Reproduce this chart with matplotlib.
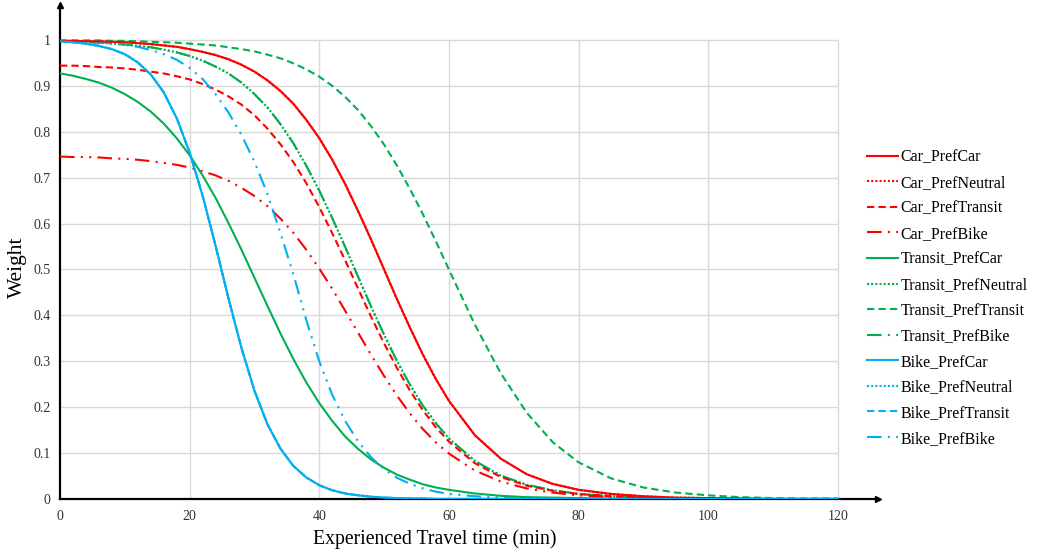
import matplotlib
matplotlib.use('Agg')
import matplotlib.pyplot as plt

plt.rcParams['font.family'] = ['Liberation Serif', 'DejaVu Serif']

# travel time (min) and weights
time_min = [0, 2, 4, 6, 8, 10, 12, 14, 16, 18, 20, 22, 24, 26, 28, 30, 32, 34, 36, 38, 40,
            42, 44, 46, 48, 50, 52, 54, 56, 58, 60,
            64, 68, 72, 76, 80,
            85, 90, 95, 100, 105, 110, 115, 120]

car_pref_car = [0.998, 0.998, 0.997, 0.997, 0.996, 0.995, 0.993, 0.991, 0.988, 0.985,
                0.980, 0.974, 0.967, 0.958, 0.946, 0.931, 0.912, 0.889, 0.861, 0.826,
                0.786, 0.739, 0.686, 0.627, 0.565, 0.500, 0.435, 0.373, 0.314, 0.261, 0.214,
                0.139, 0.088, 0.054, 0.033, 0.020,
                0.011, 0.006, 0.003, 0.002, 0.001, 0.000, 0.000, 0.000]
car_pref_neutral = [0.998, 0.998, 0.997, 0.997, 0.996, 0.995, 0.993, 0.991, 0.988, 0.985,
                    0.980, 0.974, 0.967, 0.958, 0.946, 0.931, 0.912, 0.889, 0.861, 0.826,
                    0.786, 0.739, 0.686, 0.627, 0.565, 0.500, 0.435, 0.373, 0.314, 0.261, 0.214,
                    0.139, 0.088, 0.054, 0.033, 0.020,
                    0.011, 0.006, 0.003, 0.002, 0.001, 0.000, 0.000, 0.000]
car_pref_transit = [0.944, 0.944, 0.943, 0.941, 0.940, 0.938, 0.935, 0.931, 0.927, 0.921,
                    0.914, 0.904, 0.892, 0.877, 0.859, 0.836, 0.807, 0.773, 0.734, 0.688,
                    0.636, 0.579, 0.520, 0.458, 0.397, 0.339, 0.285, 0.236, 0.193, 0.156, 0.125,
                    0.078, 0.048, 0.029, 0.018, 0.011,
                    0.006, 0.003, 0.002, 0.001, 0.000, 0.000, 0.000, 0.000]
car_pref_bike = [0.746, 0.745, 0.745, 0.744, 0.742, 0.741, 0.739, 0.736, 0.732, 0.728,
                 0.722, 0.714, 0.705, 0.693, 0.678, 0.660, 0.638, 0.611, 0.580, 0.543,
                 0.502, 0.458, 0.410, 0.362, 0.314, 0.268, 0.225, 0.186, 0.152, 0.123, 0.099,
                 0.062, 0.038, 0.023, 0.014, 0.008,
                 0.004, 0.002, 0.001, 0.001, 0.000, 0.000, 0.000, 0.000]

transit_pref_car = [0.927, 0.922, 0.915, 0.907, 0.896, 0.882, 0.865, 0.844, 0.818, 0.786,
                    0.749, 0.705, 0.656, 0.601, 0.543, 0.482, 0.421, 0.361, 0.305, 0.254,
                    0.209, 0.170, 0.136, 0.109, 0.086, 0.068, 0.053, 0.042, 0.032, 0.025, 0.020,
                    0.012, 0.007, 0.004, 0.003, 0.002,
                    0.001, 0.000, 0.000, 0.000, 0.000, 0.000, 0.000, 0.000]
transit_pref_neutral = [0.997, 0.997, 0.995, 0.994, 0.992, 0.990, 0.987, 0.984, 0.979, 0.973,
                        0.965, 0.955, 0.942, 0.927, 0.907, 0.882, 0.853, 0.817, 0.775, 0.726,
                        0.672, 0.612, 0.549, 0.484, 0.419, 0.358, 0.300, 0.249, 0.203, 0.165, 0.132,
                        0.083, 0.051, 0.031, 0.019, 0.011,
                        0.006, 0.003, 0.002, 0.001, 0.000, 0.000, 0.000, 0.000]
transit_pref_transit = [0.999, 0.999, 0.999, 0.999, 0.998, 0.998, 0.997, 0.996, 0.995, 0.994,
                        0.992, 0.990, 0.988, 0.984, 0.980, 0.975, 0.968, 0.960, 0.949, 0.936,
                        0.920, 0.900, 0.876, 0.847, 0.812, 0.772, 0.726, 0.675, 0.620, 0.561, 0.500,
                        0.380, 0.274, 0.188, 0.124, 0.080,
                        0.045, 0.025, 0.014, 0.008, 0.004, 0.002, 0.001, 0.001]
transit_pref_bike = [0.997, 0.997, 0.995, 0.994, 0.992, 0.990, 0.987, 0.984, 0.979, 0.973,
                     0.965, 0.955, 0.942, 0.927, 0.907, 0.882, 0.853, 0.817, 0.775, 0.726,
                     0.672, 0.612, 0.549, 0.484, 0.419, 0.358, 0.300, 0.249, 0.203, 0.165, 0.132,
                     0.083, 0.051, 0.031, 0.019, 0.011,
                     0.006, 0.003, 0.002, 0.001, 0.000, 0.000, 0.000, 0.000]

bike_pref_car = [0.997, 0.995, 0.992, 0.987, 0.980, 0.969, 0.951, 0.925, 0.886, 0.830,
                 0.755, 0.661, 0.552, 0.437, 0.329, 0.236, 0.163, 0.110, 0.072, 0.047,
                 0.030, 0.019, 0.012, 0.008, 0.005, 0.003, 0.002, 0.001, 0.001, 0.000, 0.000,
                 0.000, 0.000, 0.000, 0.000, 0.000,
                 0.000, 0.000, 0.000, 0.000, 0.000, 0.000, 0.000, 0.000]
bike_pref_neutral = [0.997, 0.995, 0.992, 0.987, 0.980, 0.969, 0.951, 0.925, 0.886, 0.830,
                     0.755, 0.661, 0.552, 0.437, 0.329, 0.236, 0.163, 0.110, 0.072, 0.047,
                     0.030, 0.019, 0.012, 0.008, 0.005, 0.003, 0.002, 0.001, 0.001, 0.000, 0.000,
                     0.000, 0.000, 0.000, 0.000, 0.000,
                     0.000, 0.000, 0.000, 0.000, 0.000, 0.000, 0.000, 0.000]
bike_pref_transit = [0.997, 0.995, 0.992, 0.987, 0.980, 0.969, 0.951, 0.925, 0.886, 0.830,
                     0.755, 0.661, 0.552, 0.437, 0.329, 0.236, 0.163, 0.110, 0.072, 0.047,
                     0.030, 0.019, 0.012, 0.008, 0.005, 0.003, 0.002, 0.001, 0.001, 0.000, 0.000,
                     0.000, 0.000, 0.000, 0.000, 0.000,
                     0.000, 0.000, 0.000, 0.000, 0.000, 0.000, 0.000, 0.000]
bike_pref_bike = [0.998, 0.997, 0.996, 0.995, 0.993, 0.989, 0.985, 0.978, 0.969, 0.957,
                  0.939, 0.915, 0.882, 0.842, 0.793, 0.735, 0.665, 0.580, 0.490, 0.390,
                  0.300, 0.227, 0.170, 0.125, 0.091, 0.065, 0.046, 0.033, 0.023, 0.016, 0.011,
                  0.006, 0.003, 0.001, 0.001, 0.000,
                  0.000, 0.000, 0.000, 0.000, 0.000, 0.000, 0.000, 0.000]

x_ticks = [0, 20, 40, 60, 80, 100, 120]
y_ticks = [0, 0.1, 0.2, 0.3, 0.4, 0.5, 0.6, 0.7, 0.8, 0.9, 1]
y_tick_labels = ['0', '0.1', '0.2', '0.3', '0.4', '0.5', '0.6', '0.7', '0.8', '0.9', '1']

RED = '#FF0000'
GREEN = '#00B050'
BLUE = '#00B0F0'
dotted = (0, (1, 1))
dashed = (0, (3.5, 2))
dash_dot_dot = (0, (7, 3, 1, 3, 1, 3))

# label, values, colour, linestyle, drawing order
series = [
    ('Car_PrefCar', car_pref_car, RED, '-', 5),
    ('Car_PrefNeutral', car_pref_neutral, RED, dotted, 1),
    ('Car_PrefTransit', car_pref_transit, RED, dashed, 4),
    ('Car_PrefBike', car_pref_bike, RED, dash_dot_dot, 4),
    ('Transit_PrefCar', transit_pref_car, GREEN, '-', 4),
    ('Transit_PrefNeutral', transit_pref_neutral, GREEN, dotted, 3),
    ('Transit_PrefTransit', transit_pref_transit, GREEN, dashed, 4),
    ('Transit_PrefBike', transit_pref_bike, GREEN, (0, (7, 3, 1, 3)), 3),
    ('Bike_PrefCar', bike_pref_car, BLUE, '-', 5),
    ('Bike_PrefNeutral', bike_pref_neutral, BLUE, dotted, 1),
    ('Bike_PrefTransit', bike_pref_transit, BLUE, dashed, 1),
    ('Bike_PrefBike', bike_pref_bike, BLUE, dash_dot_dot, 4),
]

fig = plt.figure(figsize=(10.43, 5.55), dpi=100)
ax = fig.add_axes([0.0575, 0.1009, 0.7843, 0.890])

# grid only inside the data range
ax.vlines(x_ticks[1:], 0, 1, color='#d9d9d9', lw=1, zorder=0)
ax.hlines(y_ticks[1:], 0, 120, color='#d9d9d9', lw=1, zorder=0)

handles = []
for label, values, color, ls, z in series:
    line, = ax.plot(time_min, values, color=color, linestyle=ls, lw=1.5, label=label, zorder=z)
    handles.append(line)

ax.set_xlim(0, 126.2)
ax.set_ylim(0, 1.076)
ax.set_xticks(x_ticks)
ax.set_xticklabels([str(v) for v in x_ticks])
ax.set_yticks(y_ticks)
ax.set_yticklabels(y_tick_labels)
ax.tick_params(length=0, labelsize=10, colors='#333333', pad=7)
ax.tick_params(axis='x', pad=8)

for side in ['top', 'right']:
    ax.spines[side].set_visible(False)
for side in ['left', 'bottom']:
    ax.spines[side].set_linewidth(1.6)
    ax.spines[side].set_color('black')
ax.plot(1, 0, '>k', ms=5, transform=ax.transAxes, clip_on=False)
ax.plot(0, 1, '^k', ms=5, transform=ax.transAxes, clip_on=False)

ax.set_xlabel('Experienced Travel time (min)', fontsize=14.2)
ax.xaxis.set_label_coords(0.458, -0.062)
ax.set_ylabel('Weight', fontsize=15.5)
ax.yaxis.set_label_coords(-0.040, 0.470)

fig.legend(handles=handles, loc='upper left', bbox_to_anchor=(0.817, 0.757),
           frameon=False, fontsize=11.5, handlelength=2.0, handletextpad=0.15,
           labelspacing=0.6)

fig.savefig('out.png', dpi=100)
